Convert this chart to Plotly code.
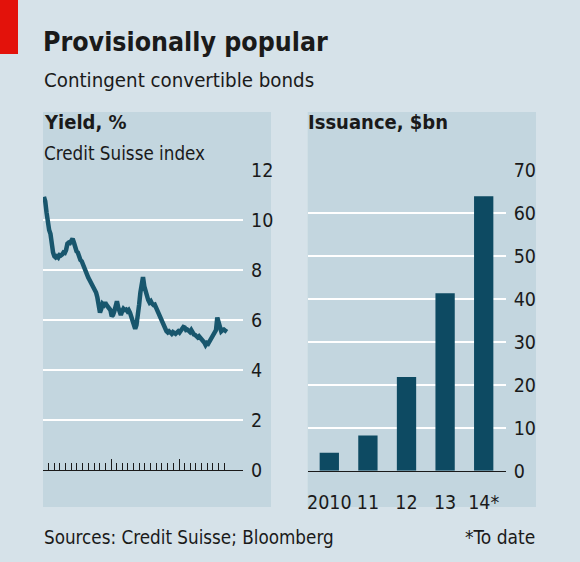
import pandas as pd
import plotly.graph_objects as go

# ---------------- data ----------------
yield_start = "2012-01-06"
yield_values = [
    10.93, 10.75, 10.3, 9.85, 9.6, 9.45, 9.0, 8.7, 8.55, 8.5,
    8.55, 8.5, 8.6, 8.58, 8.62, 8.7, 8.68, 8.8, 9.05, 9.1,
    9.08, 9.2, 9.25, 9.1, 8.9, 8.75, 8.7, 8.5, 8.4, 8.35,
    8.2, 8.1, 8.0, 7.85, 7.7, 7.6, 7.5, 7.4, 7.25, 7.15,
    7.1, 6.9, 6.6, 6.3, 6.45, 6.65, 6.6, 6.7, 6.6, 6.55,
    6.45, 6.4, 6.15, 6.2, 6.35, 6.6, 6.75, 6.5, 6.3, 6.2,
    6.35, 6.45, 6.4, 6.42, 6.35, 6.4, 6.3, 6.1, 5.9, 5.7,
    5.65, 5.8, 6.1, 6.6, 7.1, 7.5, 7.72, 7.35, 7.1, 7.0,
    6.8, 6.7, 6.75, 6.65, 6.6, 6.62, 6.5, 6.3, 6.25, 6.1,
    6.0, 5.85, 5.7, 5.6, 5.55, 5.5, 5.55, 5.5, 5.45, 5.52,
    5.48, 5.45, 5.5, 5.55, 5.5, 5.6, 5.65, 5.72, 5.7, 5.6,
    5.62, 5.55, 5.52, 5.6, 5.45, 5.42, 5.4, 5.35, 5.3, 5.35,
    5.3, 5.2, 5.15, 5.1, 5.0, 5.08, 5.05, 5.15, 5.25, 5.35,
    5.48, 5.5, 5.6, 6.1, 5.85, 5.6, 5.55, 5.6, 5.62, 5.58,
    5.65,
]
yield_dates = pd.date_range(yield_start, periods=len(yield_values), freq="7D")

year_ticks = ["2012-01-01", "2013-01-01", "2014-01-01"]
year_label_pos = ["2012-07-01", "2013-07-01", "2014-07-01"]
year_labels = ["2012", "13", "14"]
month_ticks = [d.strftime("%Y-%m-%d") for d in pd.date_range("2012-01-01", "2014-09-01", freq="MS")]

issuance_years = ["2010", "11", "12", "13", "14*"]
issuance_values = [4.2, 8.2, 21.8, 41.3, 63.9]

yield_ticks = [0, 2, 4, 6, 8, 10, 12]
issuance_ticks = [0, 10, 20, 30, 40, 50, 60, 70]

# ---------------- style ----------------
W, H = 580, 562
BG = "#d6e2e9"
PANEL = "#c3d6df"
DARK = "#0d4a62"
LINE = "#18566d"
RED = "#e3120b"
FONT = "DejaVu Sans Condensed, sans-serif"
TXT = "#1a1a1a"


def fx(px):
    return px / W


def fy(py):
    return 1 - py / H


fig = go.Figure()

fig.add_trace(go.Scatter(
    x=yield_dates, y=yield_values, mode="lines",
    line=dict(color=LINE, width=4.5), xaxis="x", yaxis="y",
    hoverinfo="skip", showlegend=False,
))

fig.add_trace(go.Bar(
    x=issuance_years, y=issuance_values, marker=dict(color=DARK, line=dict(width=0)),
    xaxis="x2", yaxis="y2", showlegend=False, hoverinfo="skip",
))

axis_font = dict(family=FONT, size=19.5, color=TXT)
date_range = ["2012-01-01", "2014-12-10"]
left_dom = [fx(43), fx(243)]

fig.update_layout(
    width=W, height=H,
    margin=dict(l=0, r=0, t=0, b=0, pad=0, autoexpand=False),
    paper_bgcolor=BG, plot_bgcolor="rgba(0,0,0,0)",
    bargap=0.5,
    xaxis=dict(
        domain=left_dom, anchor="y", type="date", automargin=False,
        range=date_range,
        showgrid=False, zeroline=False,
        showline=True, linecolor="#1a1a1a", linewidth=1,
        tickmode="array", tickvals=year_ticks, showticklabels=False,
        ticks="inside", ticklen=11, tickwidth=1, tickcolor="#1a1a1a",
        minor=dict(tickmode="array", tickvals=month_ticks, ticks="inside",
                   ticklen=7, tickwidth=1, tickcolor="#1a1a1a", showgrid=False),
    ),
    xaxis3=dict(
        domain=left_dom, anchor="y", overlaying="x", type="date", automargin=False,
        range=date_range, side="bottom",
        showgrid=False, zeroline=False, showline=False,
        tickmode="array", tickvals=year_label_pos, ticktext=year_labels,
        ticks="", ticklabelstandoff=14, tickfont=axis_font,
    ),
    xaxis4=dict(
        domain=left_dom, anchor="y", overlaying="x", type="date", automargin=False,
        range=date_range, side="bottom",
        showgrid=False, zeroline=False, showline=False, showticklabels=False,
        tickmode="array", tickvals=year_ticks,
        ticks="outside", ticklen=4, tickwidth=1, tickcolor="#1a1a1a",
    ),
    yaxis=dict(
        domain=[fy(470), fy(170)], anchor="x", range=[0, 12], automargin=False,
        side="right", tickmode="array", tickvals=yield_ticks,
        showgrid=True, gridcolor="white", gridwidth=2, zeroline=False,
        showline=False, ticks="", ticklabelstandoff=7, tickfont=axis_font,
    ),
    xaxis2=dict(
        domain=[fx(307.7), fx(505.7)], anchor="y2", type="category", automargin=False,
        range=[-0.56, 4.57], showgrid=False, zeroline=False,
        showline=True, linecolor="#1a1a1a", linewidth=1,
        ticks="", ticklabelstandoff=14, tickfont=axis_font,
    ),
    yaxis2=dict(
        domain=[fy(470.7), fy(170)], anchor="x2", range=[0, 70], automargin=False,
        side="right", tickmode="array", tickvals=issuance_ticks,
        showgrid=True, gridcolor="white", gridwidth=2, zeroline=False,
        showline=False, ticks="", ticklabelstandoff=7, tickfont=axis_font,
    ),
    shapes=[
        dict(type="rect", xref="paper", yref="paper", x0=fx(0), x1=fx(18), y0=fy(54), y1=fy(0),
             fillcolor=RED, line=dict(width=0), layer="below"),
        dict(type="rect", xref="paper", yref="paper", x0=fx(43), x1=fx(271), y0=fy(507), y1=fy(112),
             fillcolor=PANEL, line=dict(width=0), layer="below"),
        dict(type="rect", xref="paper", yref="paper", x0=fx(307.7), x1=fx(536), y0=fy(507), y1=fy(112),
             fillcolor=PANEL, line=dict(width=0), layer="below"),
    ],
)

def note(text, x, y, size, bold=False, xanchor="left"):
    fig.add_annotation(
        text=f"<b>{text}</b>" if bold else text,
        xref="paper", yref="paper", x=fx(x), y=fy(y),
        xanchor=xanchor, yanchor="middle", showarrow=False,
        font=dict(family=FONT, size=size, color=TXT),
    )

note("Provisionally popular", 41, 41, 26.5, bold=True)
note("Contingent convertible bonds", 42, 80, 20.3)
note("Yield, %", 42, 122, 20, bold=True)
note("Credit Suisse index", 42, 153, 18.7)
note("Issuance, $bn", 306, 122, 20, bold=True)
note("Sources: Credit Suisse; Bloomberg", 42, 537, 18.7)
note("*To date", 537, 537, 19, xanchor="right")

fig.write_html(
    "out.html",
    config={"displayModeBar": False, "responsive": False},
    post_script=(
        "document.documentElement.style.margin='0';"
        "document.body.style.margin='0';document.body.style.padding='0';"
        "document.documentElement.style.overflow='hidden';document.body.style.overflow='hidden';"
        "var d=document.getElementById('{plot_id}');"
        "d.style.position='fixed';d.style.top='0px';d.style.left='0px';"
    ),
)
